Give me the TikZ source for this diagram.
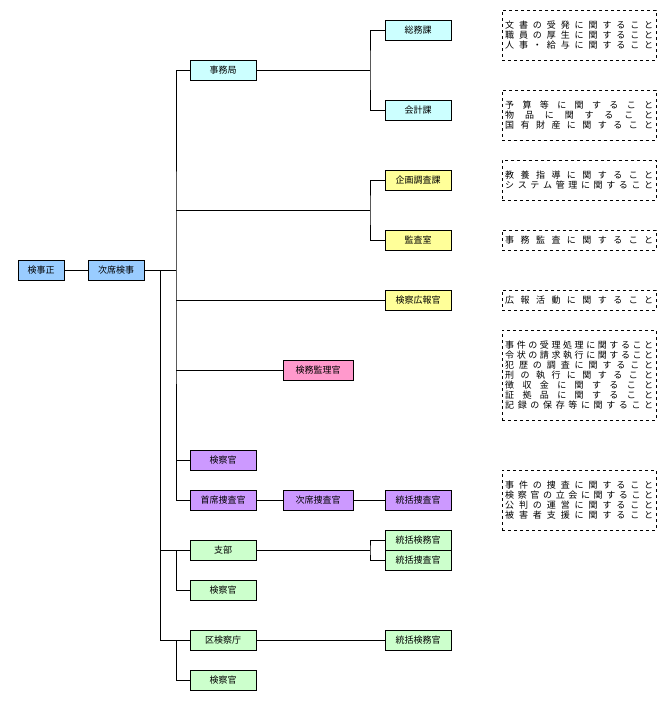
\documentclass[tikz,border=0pt]{standalone}
\usepackage{fontspec}
\setmainfont{Noto Sans CJK JP}
\definecolor{cblue}{HTML}{99CCFF}
\definecolor{ccyan}{HTML}{CCFFFF}
\definecolor{cyellow}{HTML}{FFFF99}
\definecolor{cpink}{HTML}{FF99CC}
\definecolor{cpurple}{HTML}{CC99FF}
\definecolor{cgreen}{HTML}{CCFFCC}
\tikzset{
  unit/.style={draw, minimum width=66pt, minimum height=20pt, inner sep=0pt, font=\fontsize{9}{10}\selectfont},
  narrow/.style={unit, minimum width=46pt},
  mid/.style={unit, minimum width=70pt},
  duty/.style={draw, dashed, anchor=north west, inner sep=0pt, minimum width=154pt, align=left, font=\fontsize{9}{10}\selectfont},
  blu/.style={fill=cblue},
  cya/.style={fill=ccyan},
  yel/.style={fill=cyellow},
  pnk/.style={fill=cpink},
  pur/.style={fill=cpurple},
  grn/.style={fill=cgreen}
}
\newcommand{\jl}[1]{\makebox[148pt][s]{#1}}
\begin{document}
\begin{tikzpicture}[x=1pt,y=1pt]
    \useasboundingbox (0,0) rectangle (671,-704);

    \node[narrow, blu] (kenji) at (41,-270) {検事正};
    \node[unit, minimum width=56pt, blu] (jiseki) at (116,-270) {次席検事};
    \node[unit, cya] (jimu) at (223,-70) {事務局};
    \node[unit, cya] (somu) at (418,-30) {総務課};
    \node[unit, cya] (kaikei) at (418,-110) {会計課};
    \node[unit, yel] (kikaku) at (418,-180) {企画調査課};
    \node[unit, yel] (kansa) at (418,-240) {監査室};
    \node[unit, yel] (koho) at (418,-300) {検察広報官};
    \node[mid, pnk] (kenmu) at (318,-370) {検務監理官};
    \node[unit, pur] (kensatsu) at (223,-460) {検察官};
    \node[unit, pur] (shuseki) at (223,-500) {首席捜査官};
    \node[mid, pur] (jisoku) at (318,-500) {次席捜査官};
    \node[unit, pur] (tokatsu) at (418,-500) {統括捜査官};
    \node[unit, grn] (shibu) at (223,-550) {支部};
    \node[unit, grn] (shkenmu) at (418,-540) {統括検務官};
    \node[unit, grn] (shsosa) at (418,-560) {統括捜査官};
    \node[unit, grn] (shken) at (223,-590) {検察官};
    \node[unit, grn] (kuken) at (223,-640) {区検察庁};
    \node[unit, grn] (kukenmu) at (418,-640) {統括検務官};
    \node[unit, grn] (kukensatsu) at (223,-680) {検察官};

    % bus points
    \coordinate (b0) at (176,-270);
    \coordinate (b1) at (160,-270);
    \coordinate (jbus) at (370,-70);
    \coordinate (kbus) at (370,-210);
    \coordinate (sbus) at (370,-550);

    \draw (kenji) -- (jiseki);
    \draw (jiseki) -- (b0);
    \draw (jimu.west) -| (b0) |- (shuseki.west);
    \draw (b0 |- kbus) -- (kbus);
    \draw (kikaku.west) -| (kbus) |- (kansa.west);
    \draw (b0 |- koho) -- (koho.west);
    \draw (b0 |- kenmu) -- (kenmu.west);
    \draw (b0 |- kensatsu) -- (kensatsu.west);
    \draw (shuseki) -- (jisoku);
    \draw (jisoku) -- (tokatsu);
    \draw (jimu) -- (jbus);
    \draw (somu.west) -| (jbus) |- (kaikei.west);
    \draw (b1) |- (kuken.west);
    \draw (b1 |- shibu) -- (shibu.west);
    \draw (b0 |- shibu) |- (shken.west);
    \draw (b0 |- kuken) |- (kukensatsu.west);
    \draw (shibu) -- (sbus);
    \draw (shkenmu.west) -| (sbus) |- (shsosa.west);
    \draw (kuken) -- (kukenmu);

    % duties
    \node[duty, minimum height=50pt] (d1) at (502,-10) {\jl{文 書 の 受 発 に 関 す る こ と}\\\jl{職 員 の 厚 生 に 関 す る こ と}\\\jl{人 事 ・ 給 与 に 関 す る こ と}};
    \node[duty, minimum height=50pt] (d2) at (502,-90) {\jl{予 算 等 に 関 す る こ と}\\\jl{物 品 に 関 す る こ と}\\\jl{国 有 財 産 に 関 す る こ と}};
    \node[duty, minimum height=40pt] (d3) at (502,-160) {\jl{教 養 指 導 に 関 す る こ と}\\\jl{シ ス テ ム 管 理 に 関 す る こ と}};
    \node[duty, minimum height=20pt] (d4) at (502,-230) {\jl{事 務 監 査 に 関 す る こ と}};
    \node[duty, minimum height=20pt] (d5) at (502,-290) {\jl{広 報 活 動 に 関 す る こ と}};
    \node[duty, minimum height=90pt] (d6) at (502,-330) {\jl{事 件 の 受 理 処 理 に 関 す る こ と}\\\jl{令 状 の 請 求 執 行 に 関 す る こ と}\\\jl{犯 歴 の 調 査 に 関 す る こ と}\\\jl{刑 の 執 行 に 関 す る こ と}\\\jl{徴 収 金 に 関 す る こ と}\\\jl{証 拠 品 に 関 す る こ と}\\\jl{記 録 の 保 存 等 に 関 す る こ と}};
    \node[duty, minimum height=60pt] (d7) at (502,-470) {\jl{事 件 の 捜 査 に 関 す る こ と}\\\jl{検 察 官 の 立 会 に 関 す る こ と}\\\jl{公 判 の 運 営 に 関 す る こ と}\\\jl{被 害 者 支 援 に 関 す る こ と}};
\end{tikzpicture}
\end{document}
